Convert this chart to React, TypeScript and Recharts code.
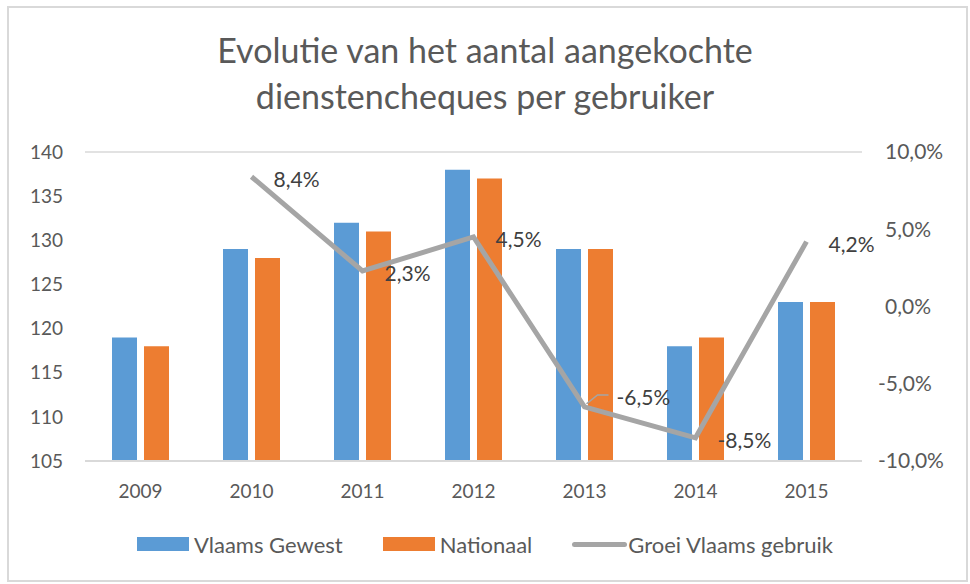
import {
  ComposedChart,
  Bar,
  Line,
  XAxis,
  YAxis,
  CartesianGrid,
  Legend,
  LabelList,
} from 'recharts';

const years = ['2009', '2010', '2011', '2012', '2013', '2014', '2015'];
const vlaamsGewest = [119, 129, 132, 138, 129, 118, 123];
const nationaal = [118, 128, 131, 137, 129, 119, 123];
const groeiVlaams: (number | null)[] = [null, 0.084, 0.023, 0.045, -0.065, -0.085, 0.042];

const leftTicks = [105, 110, 115, 120, 125, 130, 135, 140];
const rightTicks = [-0.1, -0.05, 0, 0.05, 0.1];

const data = years.map((year, i) => ({
  year,
  vlaams: vlaamsGewest[i],
  nationaal: nationaal[i],
  groei: groeiVlaams[i],
}));

const BLUE = '#5b9bd5';
const ORANGE = '#ed7d31';
const GRAY = '#a5a5a5';
const TEXT = '#595959';
const FONT = 'Lato, "Open Sans", sans-serif';

const fmtPct = (v: number) => (v * 100).toFixed(1).replace('.', ',') + '%';

// label 2013 sits higher with a leader line, like in the original
const labelNudge: Record<number, { dx: number; dy: number; leader?: boolean }> = {
  4: { dx: 32, dy: -9, leader: true },
};

const GrowthLabel = (props: any) => {
  const { x, y, value, index } = props;
  if (value == null) return null;
  const n = labelNudge[index] || { dx: 22, dy: 3 };
  const tx = x + n.dx;
  const ty = y + n.dy;
  return (
    <g>
      {n.leader && (
        <polyline
          points={`${tx - 8},${ty - 3} ${tx - 19},${ty - 3} ${x + 2},${y - 3}`}
          fill="none"
          stroke={GRAY}
          strokeWidth={1.5}
        />
      )}
      <text x={tx} y={ty} dy="0.355em" fontSize={21} fill="#404040" fontFamily={FONT}>
        {fmtPct(value)}
      </text>
    </g>
  );
};

const RightTick = (props: any) => {
  const { x, y, payload } = props;
  const v = payload.value as number;
  return (
    <text x={v < 0 ? x - 7 : x} y={y} dy="0.355em" fontSize={21} fill={TEXT} fontFamily={FONT} textAnchor="start">
      {fmtPct(v)}
    </text>
  );
};

const swatch = (color: string) => (
  <span style={{ display: 'inline-block', width: 52, height: 14, background: color, marginRight: 5 }} />
);

const LegendContent = () => (
  <div
    style={{
      height: 30,
      display: 'flex',
      justifyContent: 'center',
      alignItems: 'center',
      fontFamily: FONT,
      fontSize: 22,
      color: TEXT,
    }}
  >
    {swatch(BLUE)}
    <span style={{ marginRight: 40 }}>Vlaams Gewest</span>
    {swatch(ORANGE)}
    <span style={{ marginRight: 40 }}>Nationaal</span>
    <span style={{ display: 'inline-block', width: 55, height: 5, borderRadius: 3, background: GRAY, marginRight: 1 }} />
    <span>Groei Vlaams gebruik</span>
  </div>
);

export default function App() {
  return (
    <div style={{ position: 'absolute', left: 0, top: 0, width: 970, height: 584, background: '#fff' }}>
      <div
        style={{
          position: 'absolute',
          left: 7,
          top: 6,
          width: 957,
          height: 572,
          border: '2px solid #d9d9d9',
        }}
      />
      <div
        style={{
          position: 'absolute',
          left: 0,
          top: 27,
          width: 970,
          textAlign: 'center',
          fontFamily: FONT,
          fontSize: 34,
          lineHeight: '46px',
          color: TEXT,
        }}
      >
        Evolutie van het aantal aangekochte
        <br />
        dienstencheques per gebruiker
      </div>
      <div style={{ position: 'absolute', left: 0, top: 0 }}>
        <ComposedChart
          width={970}
          height={584}
          data={data}
          margin={{ top: 152, right: 10, bottom: 25, left: 10 }}
          barGap={7}
          barSize={25}
        >
          <CartesianGrid vertical={false} stroke="#d9d9d9" strokeWidth={1.5} />
          <XAxis
            dataKey="year"
            height={68}
            axisLine={{ stroke: '#d9d9d9', strokeWidth: 2 }}
            tickLine={false}
            tickSize={0}
            tickMargin={24}
            tick={{ fontSize: 19, fill: TEXT, fontFamily: FONT }}
          />
          <YAxis
            yAxisId="left"
            width={75}
            domain={[105, 140]}
            ticks={leftTicks}
            axisLine={false}
            tickLine={false}
            tickSize={0}
            tickMargin={22}
            tick={{ fontSize: 19, fill: TEXT, fontFamily: FONT }}
          />
          <YAxis
            yAxisId="right"
            orientation="right"
            width={98}
            domain={[-0.1, 0.1]}
            ticks={rightTicks}
            axisLine={false}
            tickLine={false}
            tickSize={0}
            tickMargin={23}
            tick={<RightTick />}
          />
          <Legend verticalAlign="bottom" content={<LegendContent />} />
          <Bar yAxisId="left" dataKey="vlaams" name="Vlaams Gewest" fill={BLUE} isAnimationActive={false} />
          <Bar yAxisId="left" dataKey="nationaal" name="Nationaal" fill={ORANGE} isAnimationActive={false} />
          <Line
            yAxisId="right"
            dataKey="groei"
            name="Groei Vlaams gebruik"
            stroke={GRAY}
            strokeWidth={5}
            dot={false}
            activeDot={false}
            isAnimationActive={false}
          >
            <LabelList dataKey="groei" content={<GrowthLabel />} />
          </Line>
        </ComposedChart>
      </div>
    </div>
  );
}
